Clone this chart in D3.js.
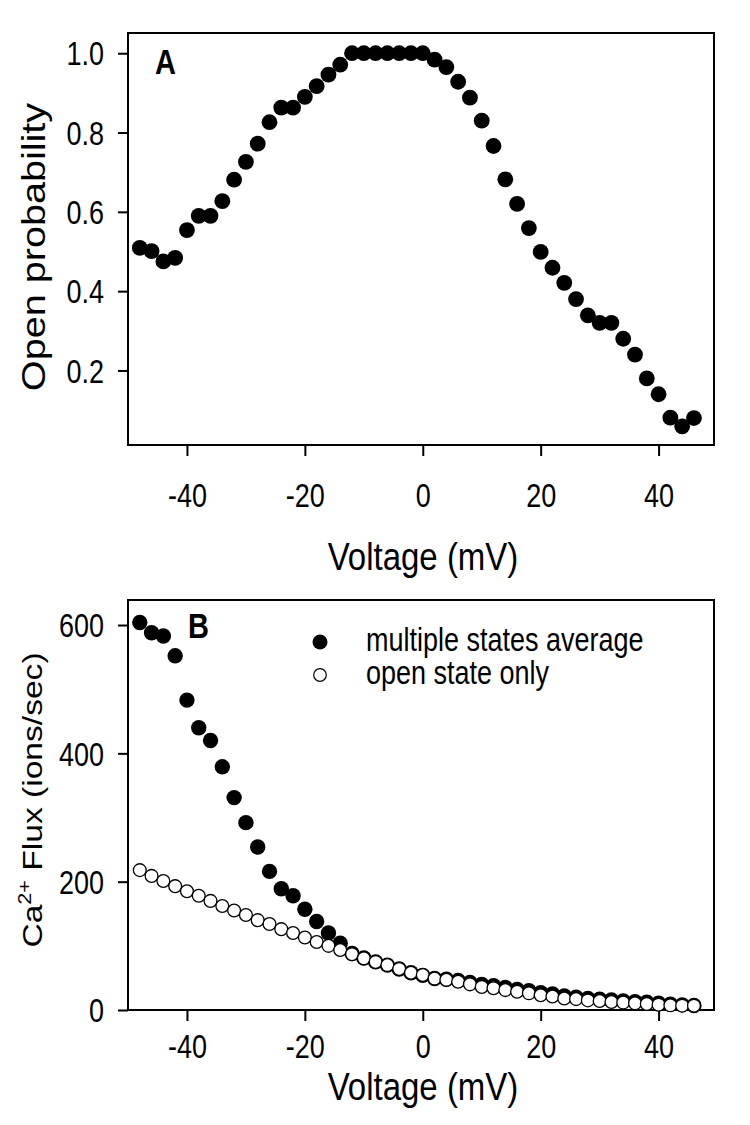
<!DOCTYPE html>
<html>
<head>
<meta charset="utf-8">
<script src="https://cdnjs.cloudflare.com/ajax/libs/d3/7.8.5/d3.min.js"></script>
<style>
  body { margin: 0; background: #fff; }
  text { font-family: "Liberation Sans", Arial, sans-serif; fill: #000; }
</style>
</head>
<body>
<script>
// voltage steps (mV)
const voltage = [-48, -46, -44, -42, -40, -38, -36, -34, -32, -30, -28, -26, -24, -22, -20, -18,
  -16, -14, -12, -10, -8, -6, -4, -2, 0, 2, 4, 6, 8, 10, 12, 14,
  16, 18, 20, 22, 24, 26, 28, 30, 32, 34, 36, 38, 40, 42, 44, 46];

// panel A
const openProb = [0.509, 0.501, 0.475, 0.484, 0.554, 0.590, 0.590, 0.627, 0.681, 0.726, 0.772, 0.826, 0.863, 0.863, 0.890, 0.917,
  0.946, 0.971, 1.0, 1.0, 1.0, 1.0, 1.0, 1.0, 1.0, 0.984, 0.965, 0.928, 0.888, 0.830, 0.766, 0.682,
  0.620, 0.559, 0.499, 0.459, 0.421, 0.380, 0.339, 0.320, 0.320, 0.280, 0.240, 0.180, 0.140, 0.081, 0.059, 0.080];

// panel B
const fluxAverage = [604, 588, 583, 552, 483, 440, 420, 379, 331, 292, 254, 216, 189, 178, 157, 138,
  120, 104, 88, 81, 75, 70, 64, 58, 54, 49, 48, 46, 43, 40, 38, 35,
  32, 30, 27, 25, 22, 20, 18, 17, 15.5, 14, 13, 12, 10.5, 9, 8, 7];
const fluxOpen = [218, 209, 201, 193, 185, 178, 170, 162, 155, 148, 140, 134, 126, 120, 113, 106,
  100, 93.5, 87, 80.5, 75, 70, 64, 58, 54.5, 49, 47, 44, 40, 36, 34, 31,
  28.5, 26, 23, 21, 18, 17, 15, 14, 12.5, 11.5, 10.4, 9.4, 8.3, 7.3, 6.8, 6.8];

const xTicks = [-40, -20, 0, 20, 40];
const probTicks = [0.2, 0.4, 0.6, 0.8, 1.0];
const fluxTicks = [0, 200, 400, 600];
const legendLabels = ['multiple states average', 'open state only'];

const svg = d3.select('body').append('svg')
  .attr('width', 750)
  .attr('height', 1125);

// the original figure's lettering is a little taller than wide
const stretch = 1.2;

const x = d3.scaleLinear().domain([-50, 49.4]).range([128, 714]);
const yA = d3.scaleLinear().domain([0.012, 1.051]).range([445, 33]);
const yB = d3.scaleLinear().domain([0, 639]).range([1010, 600]);

function addText(px, py, str, size, anchor, rot, bold) {
  const t = svg.append('text')
    .attr('transform', `translate(${px},${py}) scale(1,${stretch})` + (rot ? ' rotate(-90)' : ''))
    .attr('text-anchor', anchor)
    .style('font-size', size + 'px')
    .text(str);
  if (bold) t.style('font-weight', 'bold');
  return t;
}

function drawPanel(y, yTicks, yFormat, top, bottom, xLabelOff) {
  // bottom axis
  svg.append('g')
    .attr('transform', `translate(0,${bottom})`)
    .call(d3.axisBottom(x).tickValues(xTicks).tickSize(11).tickSizeOuter(0).tickFormat(d => String(d)))
    .call(g => g.select('.domain').remove())
    .call(g => g.selectAll('line').attr('stroke-width', 2))
    .call(g => g.selectAll('text')
      .attr('y', xLabelOff / stretch)
      .attr('dy', null)
      .attr('transform', `scale(1,${stretch})`)
      .style('font-size', '27px'));

  // left axis
  svg.append('g')
    .attr('transform', 'translate(128,0)')
    .call(d3.axisLeft(y).tickValues(yTicks).tickSize(10).tickSizeOuter(0).tickFormat(yFormat))
    .call(g => g.select('.domain').remove())
    .call(g => g.selectAll('line').attr('stroke-width', 2))
    .call(g => g.selectAll('text')
      .attr('x', -24)
      .attr('dy', '0.36em')
      .attr('transform', `scale(1,${stretch})`)
      .style('font-size', '27px'));

  // frame
  svg.append('rect')
    .attr('x', 128)
    .attr('y', top)
    .attr('width', 714 - 128)
    .attr('height', bottom - top)
    .attr('fill', 'none')
    .attr('stroke', 'black')
    .attr('stroke-width', 2);
}

// ---- panel A
drawPanel(yA, probTicks, d3.format('.1f'), 33, 445, 62);

svg.append('g')
  .selectAll('circle')
  .data(voltage)
  .join('circle')
  .attr('cx', d => x(d))
  .attr('cy', (d, i) => yA(openProb[i]))
  .attr('r', 7.9)
  .attr('fill', 'black');

addText(155, 74, 'A', 29, 'start', false, true);
addText(423, 570, 'Voltage (mV)', 33, 'middle');
addText(45, 247, 'Open probability', 33, 'middle', true);

// ---- panel B
drawPanel(yB, fluxTicks, d => String(d), 600, 1010, 48);

svg.append('g')
  .selectAll('circle')
  .data(voltage)
  .join('circle')
  .attr('cx', d => x(d))
  .attr('cy', (d, i) => yB(fluxAverage[i]))
  .attr('r', 7.7)
  .attr('fill', 'black');

svg.append('g')
  .selectAll('circle')
  .data(voltage)
  .join('circle')
  .attr('cx', d => x(d))
  .attr('cy', (d, i) => yB(fluxOpen[i]))
  .attr('r', 6.4)
  .attr('fill', 'white')
  .attr('stroke', 'black')
  .attr('stroke-width', 1.3);

addText(188, 638, 'B', 29, 'start', false, true);
addText(423, 1100, 'Voltage (mV)', 33, 'middle');

const yTitle = addText(42, 800, '', 28, 'middle', true);
yTitle.append('tspan').text('Ca');
yTitle.append('tspan').attr('dy', -11).style('font-size', '18px').text('2+');
yTitle.append('tspan').attr('dy', 11).text(' Flux (ions/sec)');

// legend
svg.append('circle').attr('cx', 320).attr('cy', 642).attr('r', 7.5).attr('fill', 'black');
svg.append('circle').attr('cx', 320).attr('cy', 675).attr('r', 6.3)
  .attr('fill', 'white').attr('stroke', 'black').attr('stroke-width', 1.2);
addText(366, 651, legendLabels[0], 27, 'start');
addText(366, 684, legendLabels[1], 27, 'start');
</script>
</body>
</html>
